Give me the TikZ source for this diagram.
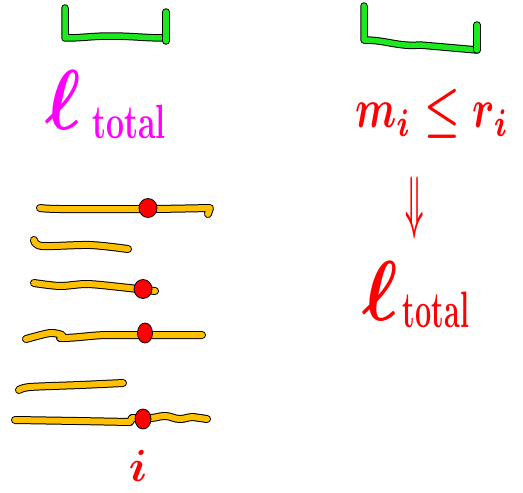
\documentclass[tikz,border=0pt]{standalone}
\usepackage{graphicx}
\definecolor{grn}{RGB}{30,232,30}
\definecolor{ylw}{RGB}{255,192,0}
\definecolor{rd}{RGB}{255,0,0}
\definecolor{mgt}{RGB}{255,0,255}
\newcommand{\bigell}{\scalebox{7.5}[8.5]{{\boldmath$\ell$}}}
\newcommand{\hwtotal}[1]{\scalebox{1}[#1]{\bfseries\fontsize{32}{32}\selectfont total}}
\begin{document}
\begin{tikzpicture}[x=1pt,y=-1pt,
  gstroke/.style={draw=grn, line width=5.5pt, line cap=round, line join=round,
    preaction={draw=black, line width=7.5pt, line cap=round, line join=round}},
  ystroke/.style={draw=ylw, line width=6pt, line cap=round, line join=round,
    preaction={draw=black, line width=8pt, line cap=round, line join=round}},
  rdot/.style={fill=rd, draw=black, line width=0.8pt},
  hw/.style={inner sep=0pt, outer sep=0pt}]
\useasboundingbox (0,0) rectangle (523,493);
% green brackets
\draw[gstroke] (65,8) -- (65,38) to[out=0,in=180] (110,36) to[out=0,in=180] (166,38);
\draw[gstroke] (166,12) -- (166,41);
\draw[gstroke] (364,6) -- (364,40) to[out=0,in=185] (420,45) -- (477,50);
\draw[gstroke] (477,25) -- (477,50);
% magenta l total
\node[hw, text=mgt] (ellA) at (63,100) {\bigell};
\node[hw, text=mgt] (totA) at (129,122) {\hwtotal{1.5}};
% red formula
\node[hw, text=rd] (ineq) at (432,114) {\scalebox{4}[5.5]{{\boldmath$m_i \leq r_i$}}};
\node[hw, text=rd] (impl) at (415,208) {\scalebox{2.6}[7]{{\boldmath$\Downarrow$}}};
\node[hw, text=rd] (ellB) at (380,291) {\bigell};
\node[hw, text=rd] (totB) at (436,310) {\scalebox{0.9}[1]{\hwtotal{1.6}}};
% yellow bars
\draw[ystroke] plot[smooth] coordinates {(40,208) (60,209) (150,209) (210,208)} -- (208,214);
\draw[ystroke] plot[smooth] coordinates {(34,240) (42,246) (90,245) (128,249)};
\draw[ystroke] plot[smooth] coordinates {(34,283) (60,286) (87,284) (120,287) (155,291)};
\draw[ystroke] plot[smooth] coordinates {(26,339) (50,333) (62,335)} -- (60,338) to[out=0,in=180] (110,335) to[out=0,in=180] (202,335);
\draw[ystroke] plot[smooth] coordinates {(19,390) (30,387) (80,385) (123,383)};
\draw[ystroke] plot[smooth] coordinates {(15,420) (77,421) (130,422)} -- (132,418) -- (150,418) to[out=0,in=180] (165,416) to[out=0,in=180] (180,419) to[out=0,in=180] (193,417) -- (207,419);
% red dots
\fill[rdot] (148,208) ellipse (9 and 9.5);
\fill[rdot] (143,289) ellipse (9 and 9.5);
\fill[rdot] (145,333) ellipse (7.5 and 10);
\fill[rdot] (143,419) ellipse (8 and 10);
% index
\node[hw, text=rd] (idx) at (138,466) {\scalebox{4.5}{{\boldmath$i$}}};
\end{tikzpicture}
\end{document}
